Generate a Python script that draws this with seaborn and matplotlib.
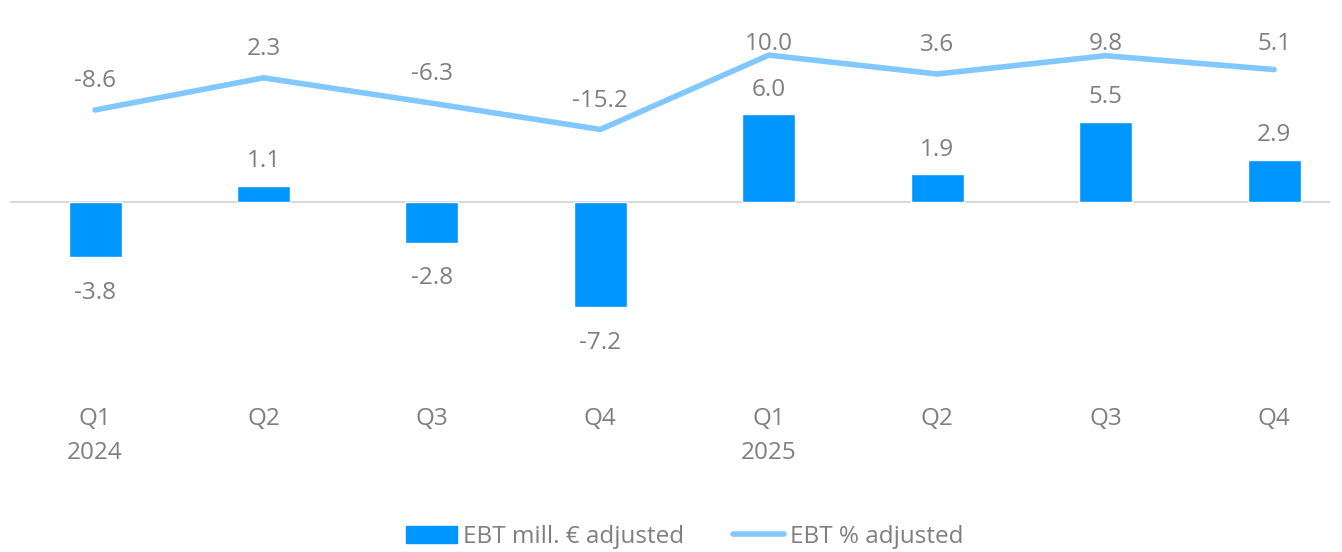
import matplotlib
matplotlib.use("Agg")
import matplotlib.pyplot as plt
import seaborn as sns
import pandas as pd
import numpy as np

# data
quarters = ["Q1\n2024", "Q2", "Q3", "Q4", "Q1\n2025", "Q2", "Q3", "Q4"]
ebt_mill = [-3.8, 1.1, -2.8, -7.2, 6.0, 1.9, 5.5, 2.9]
ebt_pct = [-8.6, 2.3, -6.3, -15.2, 10.0, 3.6, 9.8, 5.1]

bar_color = "#0096FF"
line_color = "#80C8FF"
text_color = "#7F7F7F"
fs = 17.5

sns.set_theme(style="white")
plt.rcParams["font.family"] = ["Open Sans", "DejaVu Sans"]

df = pd.DataFrame({"quarter": range(len(quarters)), "mill": ebt_mill, "pct": ebt_pct})

fig = plt.figure(figsize=(13.42, 5.52), dpi=100)
ax = fig.add_axes([10 / 1342, 1 - 390 / 552, 1320 / 1342, 370 / 552])

sns.barplot(data=df, x="quarter", y="mill", color=bar_color, width=0.315,
            saturation=1, ax=ax, zorder=3)
ax.axhline(0, color="#D9D9D9", lw=1.5, zorder=2)
ax.set_ylim(-12.88, 12.47)
ax.set_xlim(-0.505, 7.332)

ax2 = ax.twinx()
sns.lineplot(x=np.arange(len(quarters)), y=ebt_pct, color=line_color, lw=4,
             ax=ax2, solid_capstyle="round")
ax2.set_ylim(-103.5, 21.9)
ax2.set_xlim(-0.505, 7.332)

for i, v in enumerate(ebt_mill):
    if v >= 0:
        ax.annotate(f"{v:.1f}", (i, v), xytext=(0, 9), textcoords="offset points",
                    ha="center", va="bottom", fontsize=fs, color=text_color)
    else:
        ax.annotate(f"{v:.1f}", (i, v), xytext=(0, -17), textcoords="offset points",
                    ha="center", va="top", fontsize=fs, color=text_color)

# line labels sit above the points but stay inside the plot area at the top
for i, v in enumerate(ebt_pct):
    ax2.text(i, min(v + 9.8, 13.8), f"{v:.1f}", ha="center", va="center",
             fontsize=fs, color=text_color)

ax.set_xticks(range(len(quarters)))
ax.set_xticklabels(quarters, fontsize=fs, color=text_color, linespacing=1.6, va="top")
ax.tick_params(axis="x", length=0, pad=12)
ax.set_yticks([])
ax2.set_yticks([])
ax.set_xlabel("")
ax.set_ylabel("")
for a in (ax, ax2):
    for s in a.spines.values():
        s.set_visible(False)

handles = [plt.Rectangle((0, 0), 1, 1, color=bar_color),
           plt.Line2D([0], [0], color=line_color, lw=4, solid_capstyle="round")]
fig.legend(handles, ["EBT mill. € adjusted", "EBT % adjusted"], loc="center",
           bbox_to_anchor=(0.51, 1 - 537 / 552), ncol=2, frameon=False,
           fontsize=fs, labelcolor=text_color, handlelength=2.1, handletextpad=0.25,
           columnspacing=2.0)

fig.savefig("out.png", dpi=100)
